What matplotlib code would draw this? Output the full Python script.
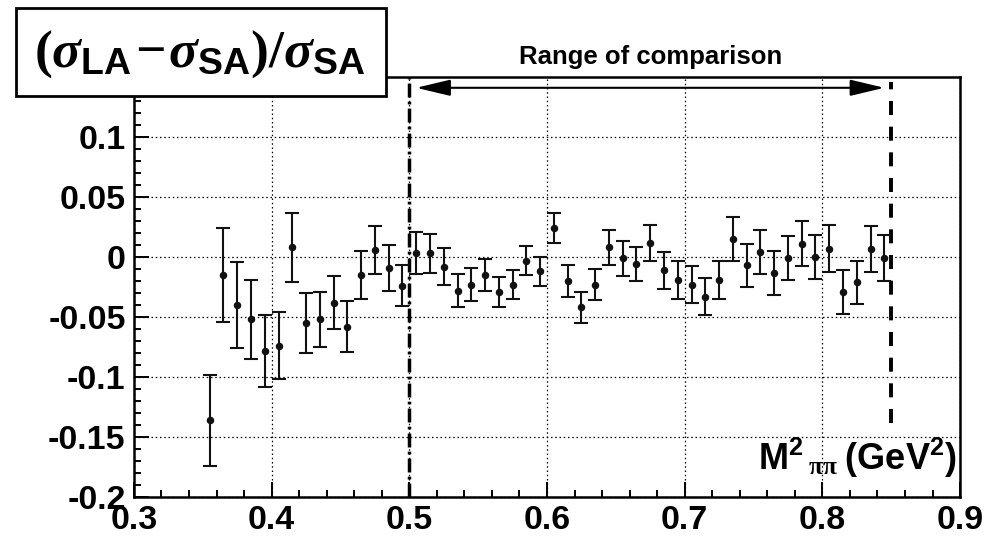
import numpy as np
import matplotlib
matplotlib.use("Agg")
import matplotlib.pyplot as plt
from matplotlib.patches import Rectangle, ArrowStyle
from matplotlib.ticker import MultipleLocator

plt.rcParams.update({
    "font.family": ["Liberation Sans", "DejaVu Sans"],
    "font.weight": "bold",
    "axes.unicode_minus": False,
    "mathtext.fontset": "custom",
    "mathtext.rm": "Liberation Serif",
    "mathtext.it": "Liberation Serif:italic",
    "mathtext.bf": "Liberation Sans:bold",
    "mathtext.sf": "Liberation Sans:bold",
})

# M^2(pi pi) bin centres, GeV^2
m2 = [0.355, 0.365, 0.375, 0.385, 0.395, 0.405, 0.415, 0.425, 0.435, 0.445,
      0.455, 0.465, 0.475, 0.485, 0.495, 0.505, 0.515, 0.525, 0.535, 0.545,
      0.555, 0.565, 0.575, 0.585, 0.595, 0.605, 0.615, 0.625, 0.635, 0.645,
      0.655, 0.665, 0.675, 0.685, 0.695, 0.705, 0.715, 0.725, 0.735, 0.745,
      0.755, 0.765, 0.775, 0.785, 0.795, 0.805, 0.815, 0.825, 0.835, 0.845]

# relative difference (sigma_LA - sigma_SA) / sigma_SA
rel_diff = [-0.136, -0.015, -0.040, -0.052, -0.078, -0.074, 0.008, -0.055, -0.052, -0.038,
            -0.058, -0.015, 0.006, -0.009, -0.024, 0.003, 0.003, -0.008, -0.028, -0.023,
            -0.015, -0.029, -0.023, -0.003, -0.012, 0.024, -0.020, -0.042, -0.023, 0.008,
            -0.001, -0.006, 0.012, -0.011, -0.019, -0.023, -0.033, -0.019, 0.015, -0.007,
            0.004, -0.013, -0.001, 0.011, 0.000, 0.007, -0.029, -0.021, 0.007, -0.001]

rel_err = [0.038, 0.039, 0.036, 0.033, 0.030, 0.028, 0.029, 0.025, 0.023, 0.022,
           0.021, 0.020, 0.020, 0.019, 0.017, 0.0175, 0.0165, 0.0155, 0.0135, 0.0135,
           0.0137, 0.0123, 0.012, 0.0123, 0.012, 0.0126, 0.013, 0.013, 0.013, 0.0143,
           0.0146, 0.0143, 0.015, 0.0154, 0.0157, 0.0154, 0.0156, 0.016, 0.018, 0.0176,
           0.0183, 0.0184, 0.0184, 0.0189, 0.0185, 0.0195, 0.0183, 0.018, 0.0192, 0.019]

xticks = [0.3, 0.4, 0.5, 0.6, 0.7, 0.8, 0.9]
xticklabels = ["0.3", "0.4", "0.5", "0.6", "0.7", "0.8", "0.9"]
yticks = [-0.2, -0.15, -0.1, -0.05, 0.0, 0.05, 0.1]
yticklabels = ["-0.2", "-0.15", "-0.1", "-0.05", "0", "0.05", "0.1"]

# comparison window
range_lo, range_hi = 0.5, 0.85
arrow_lo, arrow_hi, arrow_y = 0.505, 0.845, 0.141
dash_top, dash_bottom = 0.146, -0.138

fig = plt.figure(figsize=(9.96, 5.48), dpi=100)
ax = fig.add_axes([0.1345, 0.0931, 0.8294, 0.7664])
ax.set_xlim(0.3, 0.9)
ax.set_ylim(-0.2, 0.15)

ax.errorbar(m2, rel_diff, yerr=rel_err, fmt="o", color="#111111", ms=4.4,
            elinewidth=1.5, capsize=5, capthick=1.5, zorder=4)

# grid
ax.grid(True, which="major", color="black", linestyle=(0, (1.2, 2.2)), linewidth=0.9)
ax.set_axisbelow(True)

# ticks
ax.set_xticks(xticks, xticklabels)
ax.set_yticks(yticks, yticklabels)
ax.xaxis.set_minor_locator(MultipleLocator(0.02))
ax.yaxis.set_minor_locator(MultipleLocator(0.01))
ax.tick_params(which="both", direction="in", top=False, right=False, width=1.4,
               labelsize=24.5)
ax.tick_params(which="major", length=10.5)
ax.tick_params(which="minor", length=5)
ax.tick_params(axis="y", pad=6)
ax.tick_params(axis="x", pad=6)
for lab in ax.get_xticklabels() + ax.get_yticklabels():
    lab.set_fontweight("bold")
for sp in ax.spines.values():
    sp.set_linewidth(1.8)

# range markers
ax.axvline(range_lo, color="black", lw=2.5, linestyle=(0, (4, 1.2, 0.8, 1.2)), zorder=3)
ax.vlines(range_hi, dash_bottom, dash_top, color="black", lw=2.8,
          linestyle=(0, (3.6, 3.0)), zorder=3)
ax.annotate("", xy=(arrow_hi, arrow_y), xytext=(arrow_lo, arrow_y),
            arrowprops=dict(arrowstyle=ArrowStyle("<|-|>", head_length=2.1, head_width=0.5),
                            lw=1.5, color="black", shrinkA=0, shrinkB=0,
                            mutation_scale=10))
ax.text((range_lo + range_hi) / 2, 0.1605, "Range of comparison", ha="center",
        va="baseline", fontsize=18.5, fontweight="bold", clip_on=False)

# x-axis title inside the frame
ax.text(0.9964, 0.064, r"$\mathsf{M^{2}}\,{}_{\mathrm{\pi\pi}}\;\mathsf{(GeV^{2})}$",
        transform=ax.transAxes, ha="right", va="baseline", fontsize=26)

# y-axis title box
fig.add_artist(Rectangle((16 / 996, 1 - 96 / 548), 370 / 996, 88 / 548,
                         transform=fig.transFigure, facecolor="white",
                         edgecolor="black", lw=2.0, zorder=10))
fig.text(200 / 996, 1 - 54 / 548,
         r"$(\sigma_{\mathsf{LA}}\hspace{0.08}{-}\hspace{0.08}\sigma_{\mathsf{SA}})/\sigma_{\mathsf{SA}}$",
         ha="center", va="center", fontsize=38.5, zorder=11)

fig.savefig("out.png", dpi=100)
